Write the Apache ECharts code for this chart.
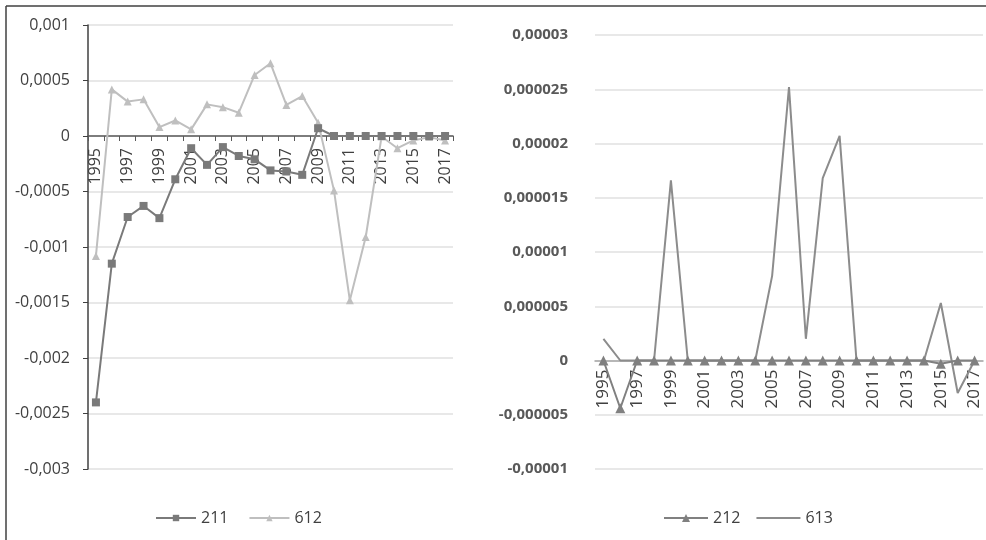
<!DOCTYPE html>
<html><head><meta charset="utf-8">
<script src="https://cdn.jsdelivr.net/npm/echarts@6/dist/echarts.min.js"></script>
<style>html,body{margin:0;padding:0;background:#fff}#c{width:986px;height:540px}</style>
</head><body><div id="c"></div>
<script>
const years = ['1995','1996','1997','1998','1999','2000','2001','2002','2003','2004','2005','2006','2007','2008','2009','2010','2011','2012','2013','2014','2015','2016','2017'];
const s211 = [-0.0024,-0.00115,-0.00073,-0.00063,-0.00074,-0.00039,-0.00011,-0.00026,-0.0001,-0.00018,-0.00021,-0.00031,-0.00032,-0.00035,0.00007,0,0,0,0,0,0,0,0];
const s612 = [-0.00108,0.00042,0.00031,0.00033,0.00008,0.00014,0.00006,0.000285,0.00026,0.00021,0.00055,0.000655,0.00028,0.00036,0.00012,-0.00049,-0.00148,-0.00091,-0.000005,-0.00011,-0.00004,-0.00001,-0.00004];
const s212 = [0,-0.0000044,0,0,0,0,0,0,0,0,0,0,0,0,0,0,0,0,0,0,-0.0000003,0,0];
const s613 = [0.000002,0,0,0,0.0000166,0,0,0,0,0,0.0000078,0.0000252,0.000002,0.0000168,0.0000207,0,0,0,0,0,0.0000053,-0.000003,0];
const leftTicks = {min:-0.003, max:0.001, interval:0.0005};
const rightTicks = {min:-0.00001, max:0.00003, interval:0.000005};

const fmt = v => v === 0 ? '0' : String(parseFloat(v.toPrecision(6))).replace('.', ',');
const FONT = 'Open Sans';
const G0 = {left:88, right:533, top:25, bottom:71};
const G1 = {left:595, right:3, top:35, bottom:71};
const H = 540;
// offset of the zero line from the grid bottom, computed from the axis ranges
const zeroOffset = (g, t) => {
  const h = H - g.top - g.bottom;
  return -h * (0 - t.min) / (t.max - t.min);
};
const chart = echarts.init(document.getElementById('c'));
chart.setOption({
  animation:false,
  textStyle:{fontFamily:FONT},
  graphic:[
    {type:'line', shape:{x1:6,y1:6,x2:986,y2:6}, style:{stroke:'#404040', lineWidth:1.5}},
    {type:'line', shape:{x1:6,y1:6,x2:6,y2:540}, style:{stroke:'#404040', lineWidth:1.5}}
  ],
  grid:[G0, G1],
  legend:[
    {data:['211','612'], left:150, top:505, itemWidth:40, itemHeight:8, itemGap:20,
     textStyle:{fontFamily:FONT, fontSize:16, color:'#404040'}},
    {data:['212',{name:'613', icon:'path://M0,0 L44,0 L44,2 L0,2 Z'}], left:658, top:505, itemWidth:44, itemHeight:10, itemGap:16,
     textStyle:{fontFamily:FONT, fontSize:16, color:'#404040'}}
  ],
  xAxis:[
    {type:'category', gridIndex:0, data:years, boundaryGap:true, position:'bottom', offset:zeroOffset(G0, leftTicks),
     axisLine:{onZero:false, lineStyle:{color:'#595959', width:1.5}},
     axisTick:{show:true, length:5, interval:0, lineStyle:{color:'#595959'}},
     axisLabel:{rotate:90, interval:1, margin:12, fontSize:16, color:'#404040', fontFamily:FONT},
     splitLine:{show:false}},
    {type:'category', gridIndex:1, data:years, boundaryGap:true, position:'bottom', offset:zeroOffset(G1, rightTicks),
     axisLine:{onZero:false, lineStyle:{color:'#a6a6a6', width:1.5}},
     axisTick:{show:false},
     axisLabel:{rotate:90, interval:1, margin:9, fontSize:17, color:'#404040', fontFamily:FONT},
     splitLine:{show:false}}
  ],
  yAxis:[
    {type:'value', gridIndex:0, min:leftTicks.min, max:leftTicks.max, interval:leftTicks.interval,
     axisLine:{show:true, lineStyle:{color:'#404040', width:1.5}},
     axisTick:{show:true, length:5, lineStyle:{color:'#404040'}},
     axisLabel:{formatter:fmt, margin:18, fontSize:16, color:'#404040', fontFamily:FONT},
     splitLine:{lineStyle:{color:'#e0e0e0', width:1.5}}},
    {type:'value', gridIndex:1, min:rightTicks.min, max:rightTicks.max, interval:rightTicks.interval,
     axisLine:{show:false}, axisTick:{show:false},
     axisLabel:{formatter:fmt, margin:27, fontSize:15, fontWeight:'bold', color:'#595959', fontFamily:FONT},
     splitLine:{lineStyle:{color:'#e0e0e0', width:1.5}}}
  ],
  series:[
    {name:'211', type:'line', xAxisIndex:0, yAxisIndex:0, data:s211, symbol:'rect', symbolSize:8,
     lineStyle:{color:'#7a7a7a', width:2}, itemStyle:{color:'#7a7a7a'}, z:3},
    {name:'612', type:'line', xAxisIndex:0, yAxisIndex:0, data:s612, symbol:'triangle', symbolSize:8,
     lineStyle:{color:'#bfbfbf', width:2}, itemStyle:{color:'#bfbfbf'}, z:2},
    {name:'212', type:'line', xAxisIndex:1, yAxisIndex:1, data:s212, symbol:'triangle', symbolSize:10,
     lineStyle:{color:'#808080', width:2}, itemStyle:{color:'#808080'}, z:3},
    {name:'613', type:'line', xAxisIndex:1, yAxisIndex:1, data:s613, symbol:'none', showSymbol:false,
     lineStyle:{color:'#8c8c8c', width:2}, itemStyle:{color:'#8c8c8c'}, z:2}
  ]
});
</script></body></html>
